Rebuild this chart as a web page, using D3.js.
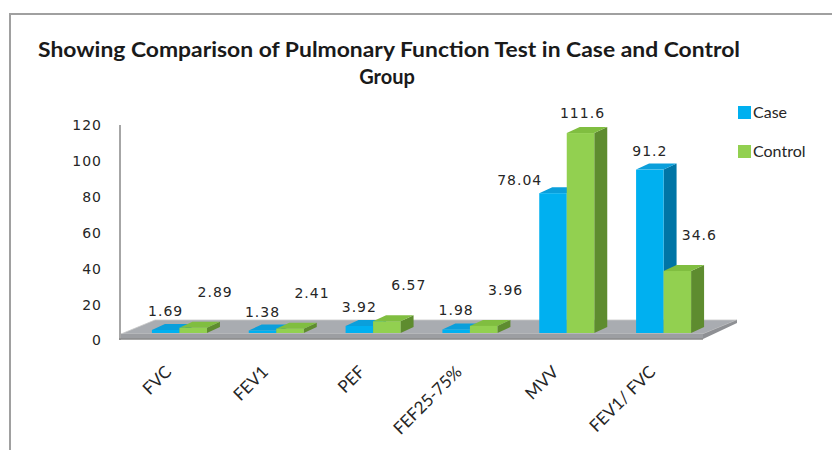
<!DOCTYPE html>
<html>
<head>
<meta charset="utf-8">
<script src="https://cdn.jsdelivr.net/npm/d3@7"></script>
<style>
  body { margin: 0; background: #fff; }
  svg { display: block; }
  .title { font-family: Lato, "Open Sans", sans-serif; font-weight: bold; font-size: 20px; fill: #1a1a1a; }
  .num { font-family: "DejaVu Sans", Verdana, sans-serif; font-size: 14px; fill: #262626; letter-spacing: 1px; }
  .cat { font-family: Lato, "Open Sans", sans-serif; font-size: 17px; fill: #262626; }
  .legend { font-family: Lato, "Open Sans", sans-serif; font-size: 16px; fill: #262626; }
</style>
</head>
<body>
<svg id="chart" width="832" height="450"></svg>
<script>
// ----------

const categories = ["FVC", "FEV1", "PEF", "FEF25-75%", "MVV", "FEV1/ FVC"];
const caseValues = [1.69, 1.38, 3.92, 1.98, 78.04, 91.2];
const controlValues = [2.89, 2.41, 6.57, 3.96, 111.6, 34.6];
const caseLabels = ["1.69", "1.38", "3.92", "1.98", "78.04", "91.2"];
const controlLabels = ["2.89", "2.41", "6.57", "3.96", "111.6", "34.6"];
const seriesNames = ["Case", "Control"];
const yTicks = [0, 20, 40, 60, 80, 100, 120];

// front / top / side shades, like excel's 3d columns
const SERIES_COLORS = {
  Case: { front: "#00b0f0", top: "#0a9fdb", side: "#0075a6" },
  Control: { front: "#92d050", top: "#80be40", side: "#5e8c2f" },
};

const BAR_DEPTH = [13, -6];
const FLOOR_DEPTH = [34, -14];

// ----------

const svg = d3.select("#chart");

// frame
svg.append("path")
  .attr("d", "M10,450 V14 H832")
  .attr("fill", "none")
  .attr("stroke", "#a0a0a0")
  .attr("stroke-width", 2);

// title
svg.append("text").attr("class", "title")
  .attr("x", 389).attr("y", 57)
  .attr("text-anchor", "middle")
  .attr("textLength", 702).attr("lengthAdjust", "spacingAndGlyphs")
  .text("Showing Comparison of Pulmonary Function Test in Case and Control");
svg.append("text").attr("class", "title")
  .attr("x", 387).attr("y", 84)
  .attr("text-anchor", "middle")
  .text("Group");

const x0 = d3.scaleBand().domain(categories).range([131, 712]).paddingInner(0.432).paddingOuter(0.216);
const x1 = d3.scaleBand().domain(seriesNames).range([0, x0.bandwidth()]);
const y = d3.scaleLinear().domain([0, 120]).range([333, 118]);
// axis labels sit a little lower than the bar base (floor thickness)
const yAxisScale = d3.scaleLinear().domain([0, 120]).range([340, 125]);

// y axis: wall line + labels, no tick marks
const yAxis = d3.axisLeft(yAxisScale).tickValues(yTicks).tickSize(0).tickPadding(0);
const gy = svg.append("g").attr("transform", "translate(102,0)").call(yAxis);
gy.select(".domain").remove();
gy.selectAll("text").attr("class", "num").attr("dy", "0.35em").attr("x", 0);

svg.append("line")
  .attr("x1", 120).attr("x2", 120).attr("y1", 125).attr("y2", 340)
  .attr("stroke", "#a6a6a6").attr("stroke-width", 2);

// floor
const fl = 121, fr = 703, ft = y(0) + 1, fb = 339;
svg.append("path")
  .attr("d", `M${fl},${ft} L${fr},${ft} L${fr + FLOOR_DEPTH[0]},${ft + FLOOR_DEPTH[1]} L${fl + FLOOR_DEPTH[0]},${ft + FLOOR_DEPTH[1]} Z`)
  .attr("fill", "#a9acb1").attr("stroke", "#c8c8c8").attr("stroke-width", 0.8);
svg.append("path")
  .attr("d", `M${fl},${ft} L${fr},${ft} L${fr},${fb} L${fl},${fb} Z`)
  .attr("fill", "#9c9ea2");
svg.append("path")
  .attr("d", `M${fr},${ft} L${fr + FLOOR_DEPTH[0]},${ft + FLOOR_DEPTH[1]} L${fr + FLOOR_DEPTH[0]},${ft + FLOOR_DEPTH[1] + 3} L${fr},${fb} Z`)
  .attr("fill", "#8e9094");
svg.append("line")
  .attr("x1", 119).attr("x2", fr).attr("y1", fb).attr("y2", fb)
  .attr("stroke", "#8a8a8a").attr("stroke-width", 1.5);

// ----------

const rows = categories.map((c, i) => ({
  category: c,
  bars: [
    { series: "Case", value: caseValues[i], label: caseLabels[i] },
    { series: "Control", value: controlValues[i], label: controlLabels[i] },
  ],
}));

function drawBar(g, category, d) {
  const col = SERIES_COLORS[d.series];
  const xl = x0(category) + x1(d.series);
  const xr = xl + x1.bandwidth();
  const yt = y(d.value);
  const yb = y(0);
  const [dx, dy] = BAR_DEPTH;

  g.append("path")
    .attr("d", `M${xr},${yb} L${xr + dx},${yb + dy} L${xr + dx},${yt + dy} L${xr},${yt} Z`)
    .attr("fill", col.side);
  g.append("path")
    .attr("d", `M${xl},${yt} L${xr},${yt} L${xr + dx},${yt + dy} L${xl + dx},${yt + dy} Z`)
    .attr("fill", col.top);
  g.append("rect")
    .attr("x", xl).attr("y", yt)
    .attr("width", xr - xl).attr("height", yb - yt)
    .attr("fill", col.front);
}

const groups = svg.append("g").selectAll("g")
  .data(rows)
  .join("g");

groups.each(function (r) {
  const g = d3.select(this);
  r.bars.forEach((d) => drawBar(g, r.category, d));
});

// value labels
const labels = svg.append("g");
rows.forEach((r) => {
  const [cs, ct] = r.bars;
  const caseCx = x0(r.category) + x1("Case") + x1.bandwidth() / 2;
  const ctrlCx = x0(r.category) + x1("Control") + x1.bandwidth() / 2;

  let caseY = y(cs.value) - 14;
  let caseX = caseCx;
  let caseAnchor = "middle";
  // move the case label out of the way when the control bar is in front of it
  if (y(ct.value) < caseY) {
    caseX = x0(r.category) + 3;
    caseAnchor = "end";
    caseY = y(cs.value) - 8;
  }
  labels.append("text").attr("class", "num")
    .attr("x", caseX).attr("y", caseY)
    .attr("text-anchor", caseAnchor)
    .text(cs.label);

  let ctrlY = y(ct.value) - 31;
  let ctrlX = ctrlCx + 22;
  if (ctrlY < 118) {
    ctrlY = 118;
    ctrlX = ctrlCx + 2;
  }
  labels.append("text").attr("class", "num")
    .attr("x", ctrlX).attr("y", ctrlY)
    .attr("text-anchor", "middle")
    .text(ct.label);
});

// category labels, rotated, ending just left of the group centre
svg.append("g").selectAll("text")
  .data(categories)
  .join("text")
  .attr("class", "cat")
  .attr("text-anchor", "end")
  .attr("transform", (d) => `translate(${x0(d) + x0.bandwidth() / 2 - 7},${373}) rotate(-45)`)
  .text((d) => d);

// legend
const legend = svg.append("g").attr("transform", "translate(738,106)");
seriesNames.forEach((s, i) => {
  const row = legend.append("g").attr("transform", `translate(0,${i * 39})`);
  row.append("rect").attr("width", 13).attr("height", 13).attr("fill", SERIES_COLORS[s].front);
  row.append("text").attr("class", "legend").attr("x", 15).attr("y", 12).text(s);
});
</script>
</body>
</html>
